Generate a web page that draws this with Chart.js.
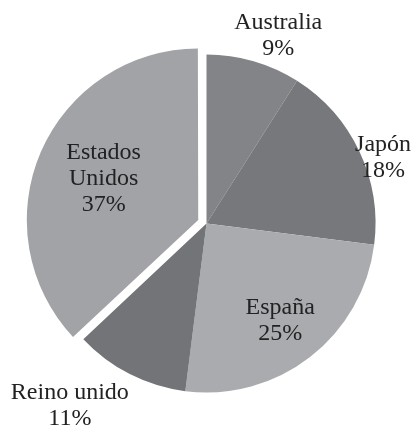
<!DOCTYPE html>
<html>
<head>
<meta charset="utf-8">
<script src="https://cdn.jsdelivr.net/npm/chart.js@4"></script>
<style>
  html, body { margin: 0; padding: 0; background: #fff; }
  #wrap { width: 415px; height: 430px; }
</style>
</head>
<body>
<div id="wrap"><canvas id="pie"></canvas></div>
<script>
// Pie data (percent share by country)
const countries = ['Australia', 'Japón', 'España', 'Reino unido', 'Estados Unidos'];
const shares = [9, 18, 25, 11, 37];
const labelLines = [['Australia'], ['Japón'], ['España'], ['Reino unido'], ['Estados', 'Unidos']];

const sliceColors = ['#838488', '#77787c', '#aaabae', '#737478', '#a2a3a7'];
// pixels each slice is pulled out (Chart.js moves an arc by offset / 4)
const explodePx = [0, 0, 0, 0, 9];

// where each label sits: fraction of the radius, and degrees nudged from the slice middle
const labelPlace = [
  { r: 1.19, da: 4.7 },
  { r: 1.115, da: 4.8 },
  { r: 0.72, da: 0.5 },
  { r: 1.35, da: 9.8 },
  { r: 0.61, da: 0 }
];

// Draw the labels next to each slice
const sliceLabels = {
  id: 'sliceLabels',
  afterDatasetsDraw(chart) {
    const ctx = chart.ctx;
    const arcs = chart.getDatasetMeta(0).data;
    ctx.save();
    ctx.fillStyle = '#222';
    ctx.font = '24px "Liberation Serif", "DejaVu Serif", serif';
    ctx.textAlign = 'center';
    ctx.textBaseline = 'middle';
    arcs.forEach((arc, i) => {
      const p = arc.getProps(['x', 'y', 'startAngle', 'endAngle', 'outerRadius']);
      const mid = (p.startAngle + p.endAngle) / 2;
      const off = explodePx[i];
      const cx = p.x + Math.cos(mid) * off;
      const cy = p.y + Math.sin(mid) * off;
      const a = mid + labelPlace[i].da * Math.PI / 180;
      const r = p.outerRadius * labelPlace[i].r;
      const x = cx + Math.cos(a) * r;
      const y = cy + Math.sin(a) * r;
      const lines = labelLines[i].concat([shares[i] + '%']);
      const lh = 26;
      const top = y - (lines.length - 1) * lh / 2;
      lines.forEach((t, k) => ctx.fillText(t, x, top + k * lh));
    });
    ctx.restore();
  }
};

new Chart(document.getElementById('pie'), {
  type: 'pie',
  data: {
    labels: countries,
    datasets: [{
      data: shares,
      backgroundColor: sliceColors,
      offset: explodePx.map(v => v * 4),
      borderWidth: 0
    }]
  },
  options: {
    responsive: true,
    maintainAspectRatio: false,
    animation: false,
    radius: 169,
    layout: { padding: { left: 33, right: 35, top: 50, bottom: 33 } },
    plugins: {
      legend: { display: false },
      tooltip: { enabled: false }
    }
  },
  plugins: [sliceLabels]
});
</script>
</body>
</html>
